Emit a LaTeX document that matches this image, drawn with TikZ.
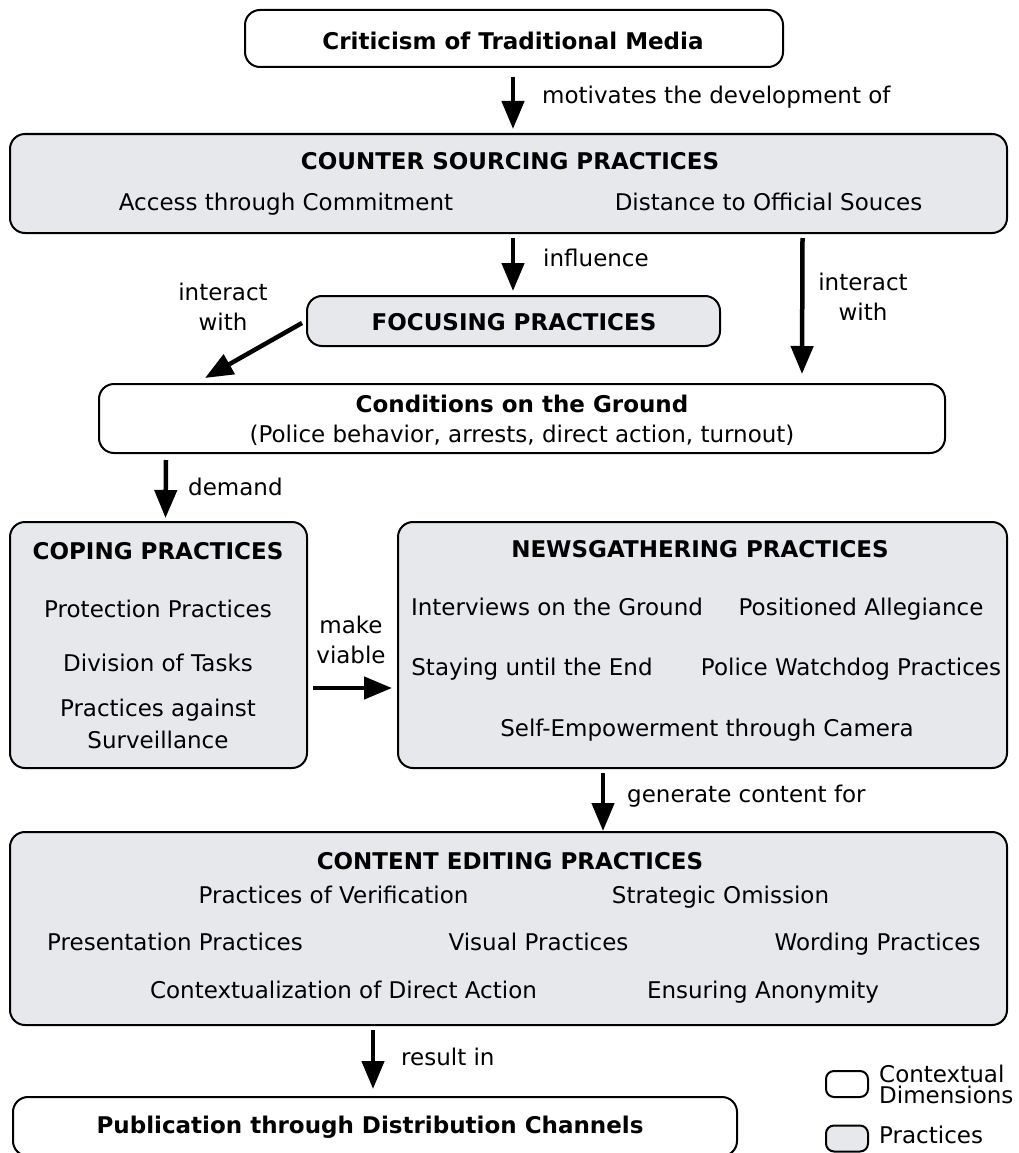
\documentclass[tikz,border=0pt]{standalone}
\usepackage{fontspec}
\setmainfont{DejaVu Sans}
\usetikzlibrary{arrows.meta}
\definecolor{practicefill}{RGB}{231,232,236}
\begin{document}
\begin{tikzpicture}[x=1pt,y=-1pt,
  box/.style={draw=black, line width=2pt, rounded corners=15pt, inner sep=0pt, outer sep=0pt},
  ctx/.style={box, fill=white},
  prac/.style={box, fill=practicefill},
  legbox/.style={box, rounded corners=8pt, minimum width=42pt, minimum height=26pt},
  arr/.style={line width=4.5pt, -{Triangle[length=28pt,width=22pt]}},
  txt/.style={font=\fontsize{23}{28}\selectfont, inner sep=0pt, anchor=base},
  ttl/.style={txt, font=\fontsize{23}{28}\selectfont\bfseries},
  lbl/.style={txt, anchor=base west}]

\useasboundingbox (0,0) rectangle (1019,1153);

% ---------- boxes ----------
\node[ctx,  minimum width=538pt, minimum height=57pt]  (crit) at (514,38.5) {};
\node[prac, minimum width=997pt, minimum height=99pt]  (csp)  at (508.5,183.5) {};
\node[prac, minimum width=413pt, minimum height=50pt]  (foc)  at (513.5,321) {};
\node[ctx,  minimum width=846pt, minimum height=69pt]  (cond) at (522,418.5) {};
\node[prac, minimum width=297pt, minimum height=246pt] (cop)  at (158.5,645) {};
\node[prac, minimum width=609pt, minimum height=246pt] (news) at (702.5,645) {};
\node[prac, minimum width=997pt, minimum height=193pt] (cep)  at (508.5,928.5) {};
\node[ctx,  minimum width=724pt, minimum height=59pt]  (pub)  at (375,1126.5) {};

% ---------- box texts ----------
\node[ttl] (tcrit) at (513,50) {Criticism of Traditional Media};

\node[ttl] (tcsp) at (510,169) {COUNTER SOURCING PRACTICES};
\node[txt] (acc)  at (286,210) {Access through Commitment};
\node[txt] (dist) at (768.5,210) {Distance to Official Souces};

\node[ttl] (tfoc) at (514,330) {FOCUSING PRACTICES};

\node[ttl] (tcond) at (522,412) {Conditions on the Ground};
\node[txt] (scond) at (522,442) {(Police behavior, arrests, direct action, turnout)};

\node[ttl] (tcop) at (158,559) {COPING PRACTICES};
\node[txt] (prot) at (158,617) {Protection Practices};
\node[txt] (divt) at (158,671) {Division of Tasks};
\node[txt] (surv1) at (158,716) {Practices against};
\node[txt] (surv2) at (158,748) {Surveillance};

\node[ttl] (tnews) at (700,557) {NEWSGATHERING PRACTICES};
\node[txt] (intv) at (557,615) {Interviews on the Ground};
\node[txt] (posa) at (861,615) {Positioned Allegiance};
\node[txt] (stay) at (532,675) {Staying until the End};
\node[txt] (watch) at (851,675) {Police Watchdog Practices};
\node[txt] (selfe) at (707,736) {Self-Empowerment through Camera};

\node[ttl] (tcep) at (510,869) {CONTENT EDITING PRACTICES};
\node[txt] (verif) at (333.5,903) {Practices of Verification};
\node[txt] (omis)  at (720.5,903) {Strategic Omission};
\node[txt] (pres)  at (175,950) {Presentation Practices};
\node[txt] (visu)  at (538.5,950) {Visual Practices};
\node[txt] (word)  at (877.5,950) {Wording Practices};
\node[txt] (ctxz)  at (343.5,998) {Contextualization of Direct Action};
\node[txt] (anon)  at (763,998) {Ensuring Anonymity};

\node[ttl] (tpub) at (370,1133) {Publication through Distribution Channels};

% ---------- connectors ----------
\draw[arr] ([shift={(-1,10)}]crit.south) -- ([shift={(4.5,-5)}]csp.north);
\draw[arr] ([shift={(4.5,5)}]csp.south) -- ([shift={(-0.5,-5)}]foc.north);
\draw[arr] ([shift={(294,5)}]csp.south) -- ([shift={(280,-10)}]cond.north);
\draw[arr] ([shift={(-5,2)}]foc.west) -- ([shift={(-317,-6)}]cond.north);
\draw[arr] ([shift={(-356,7)}]cond.south) -- ([shift={(7,-4)}]cop.north);
\draw[arr] ([shift={(6,43)}]cop.east) -- ([shift={(-6,43)}]news.west);
\draw[arr] ([shift={(-99.5,5)}]news.south) -- ([shift={(94.5,-1)}]cep.north);
\draw[arr] ([shift={(-135.5,5)}]cep.south) -- ([shift={(-2,-8)}]pub.north);

% ---------- connector labels ----------
\node[lbl] (lmot) at (542,103) {motivates the development of};
\node[lbl] (linf) at (543,266) {influence};
\node[txt] (lir1) at (863,290) {interact};
\node[txt] (lir2) at (863,320) {with};
\node[txt] (lil1) at (223,300) {interact};
\node[txt] (lil2) at (223,330) {with};
\node[lbl] (ldem) at (188,495) {demand};
\node[txt] (lmv1) at (351,633) {make};
\node[txt] (lmv2) at (351,663) {viable};
\node[lbl] (lgen) at (627,802) {generate content for};
\node[lbl] (lres) at (401,1065) {result in};

% ---------- legend ----------
\node[legbox, fill=white]        (kctx)  at (847,1084) {};
\node[legbox, fill=practicefill] (kprac) at (847,1138.5) {};
\node[lbl] (kctx1) at (879,1082) {Contextual};
\node[lbl] (kctx2) at (879,1103) {Dimensions};
\node[lbl] (kprac1) at (879,1143) {Practices};

\end{tikzpicture}
\end{document}
